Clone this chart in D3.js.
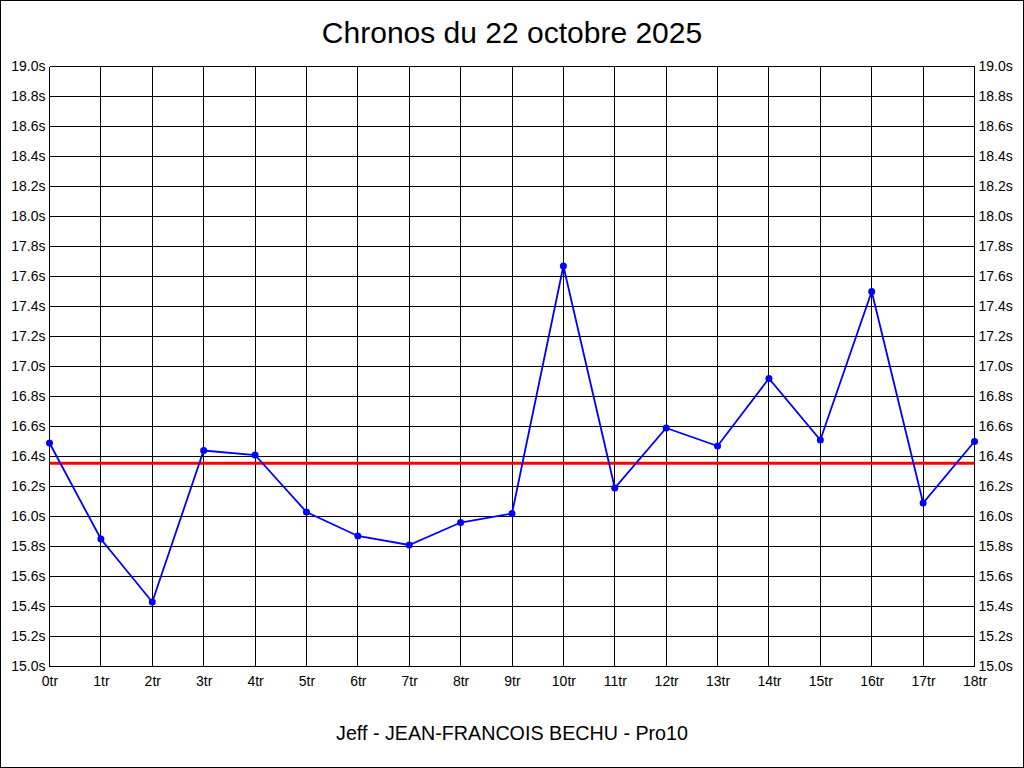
<!DOCTYPE html>
<html><head><meta charset="utf-8">
<script src="https://cdn.jsdelivr.net/npm/d3@7"></script>
<style>body{margin:0;background:#fff}svg{display:block}</style>
</head><body>
<svg id="c" width="1024" height="768"></svg>
<script>
const laps = ["0tr","1tr","2tr","3tr","4tr","5tr","6tr","7tr","8tr","9tr","10tr","11tr","12tr","13tr","14tr","15tr","16tr","17tr","18tr"];
const times = [16.49,15.85,15.43,16.44,16.41,16.03,15.87,15.81,15.96,16.02,17.67,16.19,16.59,16.47,16.92,16.51,17.50,16.09,16.50];
const meanLine = 16.355;
const yTicks = [15.0,15.2,15.4,15.6,15.8,16.0,16.2,16.4,16.6,16.8,17.0,17.2,17.4,17.6,17.8,18.0,18.2,18.4,18.6,18.8,19.0];
const title = "Chronos du 22 octobre 2025";
const subtitle = "Jeff - JEAN-FRANCOIS BECHU - Pro10";

const svg = d3.select("#c");
const W=1024,H=768;
const L=49.5,R=974.5,T=66.5,B=666.5;
const font = "'Liberation Sans', Arial, sans-serif";

svg.append("rect").attr("x",0.5).attr("y",0.5).attr("width",W-1).attr("height",H-1)
  .attr("fill","#fff").attr("stroke","#000");

const x = d3.scalePoint().domain(laps).range([L,R]);
const y = d3.scaleLinear().domain([15,19]).range([B,T]);

// grid
const g = svg.append("g").attr("shape-rendering","crispEdges");
g.selectAll(".vg").data(laps).join("line")
  .attr("x1",d=>x(d)).attr("x2",d=>x(d)).attr("y1",T).attr("y2",B)
  .attr("stroke","#000").attr("stroke-width",1);
g.selectAll(".hg").data(yTicks).join("line")
  .attr("x1",L).attr("x2",R).attr("y1",d=>Math.round(y(d)-0.5)+0.5).attr("y2",d=>Math.round(y(d)-0.5)+0.5)
  .attr("stroke","#000").attr("stroke-width",1);

// axes labels
const fmt = d=>d3.format(".1f")(d)+"s";
const fs = 14;
svg.append("g").attr("transform",`translate(${L},0)`)
  .call(d3.axisLeft(y).tickValues(yTicks).tickFormat(fmt).tickSize(0).tickPadding(4))
  .call(a=>a.select(".domain").remove())
  .call(a=>a.selectAll("text").attr("font-family",font).attr("font-size",fs).attr("fill","#000"));
svg.append("g").attr("transform",`translate(${R},0)`)
  .call(d3.axisRight(y).tickValues(yTicks).tickFormat(fmt).tickSize(0).tickPadding(4))
  .call(a=>a.select(".domain").remove())
  .call(a=>a.selectAll("text").attr("font-family",font).attr("font-size",fs).attr("fill","#000"));
svg.append("g").attr("transform",`translate(0,${B})`)
  .call(d3.axisBottom(x).tickSize(0).tickPadding(10))
  .call(a=>a.select(".domain").remove())
  .call(a=>a.selectAll("text").attr("font-family",font).attr("font-size",fs).attr("fill","#000"));

// mean line
svg.append("line").attr("x1",L).attr("x2",R).attr("y1",y(meanLine)).attr("y2",y(meanLine))
  .attr("stroke","#ff0000").attr("stroke-width",3);

// series
const line = d3.line().x((d,i)=>x(laps[i])).y(d=>y(d));
svg.append("path").datum(times).attr("d",line).attr("fill","none")
  .attr("stroke","#0000ff").attr("stroke-width",1.8);
svg.selectAll(".pt").data(times).join("circle")
  .attr("cx",(d,i)=>x(laps[i])).attr("cy",d=>y(d)).attr("r",3.5).attr("fill","#0000ff");

// titles
svg.append("text").attr("x",512).attr("y",43).attr("text-anchor","middle")
  .attr("font-family",font).attr("font-size",30).attr("fill","#000").text(title);
svg.append("text").attr("x",512).attr("y",740).attr("text-anchor","middle")
  .attr("font-family",font).attr("font-size",19.7).attr("fill","#000").text(subtitle);
</script>
</body></html>
